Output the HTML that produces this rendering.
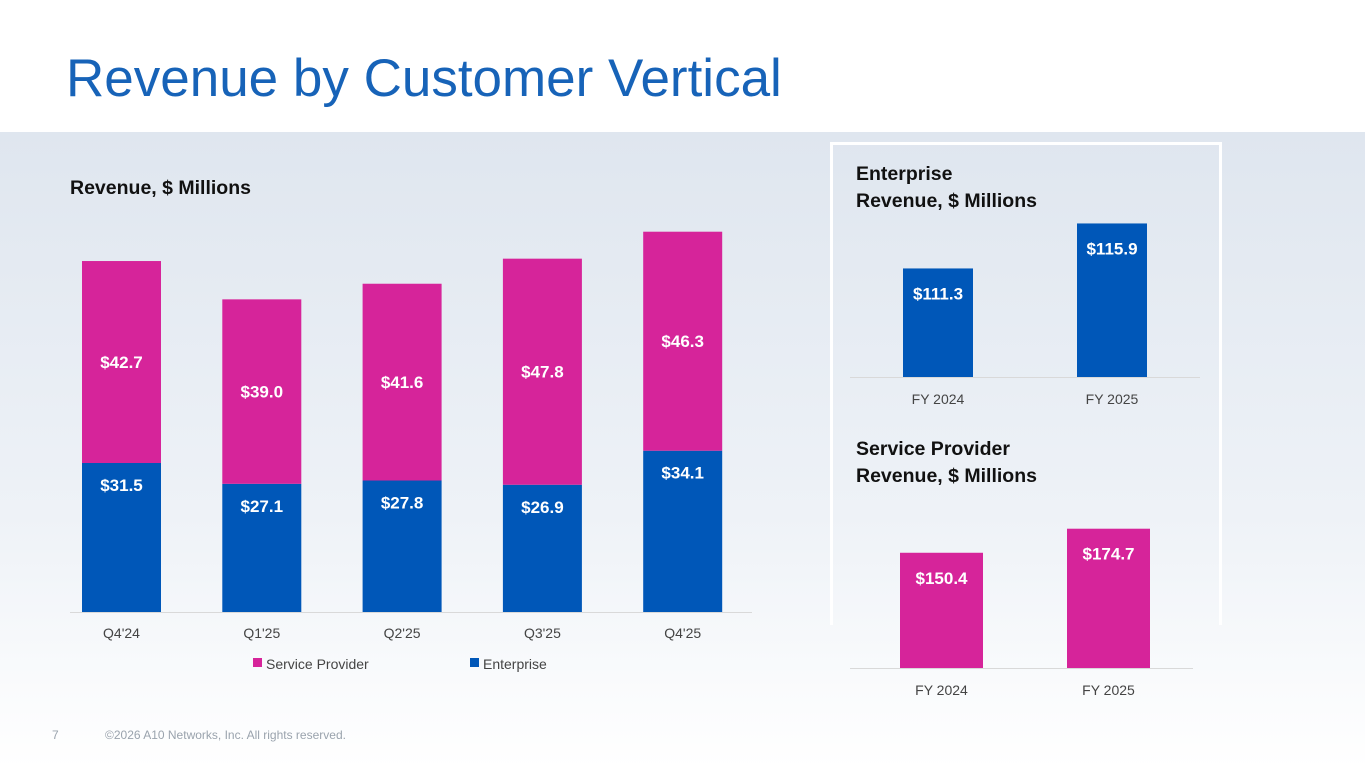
<!DOCTYPE html>
<html><head><meta charset="utf-8"><style>
body{margin:0;width:1365px;height:768px;overflow:hidden;font-family:"Liberation Sans",sans-serif;position:relative;background:#fff}
#bg{position:absolute;left:0;top:132px;width:1365px;height:636px;background:linear-gradient(#dfe6ef 0%,#eef2f7 60%,#ffffff 100%)}
#title{position:absolute;left:66px;top:48px;font-size:53px;color:#1763b8;white-space:nowrap}
#box{position:absolute;left:830px;top:142px;width:386px;height:480px;border:3px solid #fff;border-bottom:none}
.h{position:absolute;font-weight:bold;font-size:19.5px;color:#111;line-height:27px}
.foot{position:absolute;top:728px;font-size:12px;color:#9aa3ad}
svg{position:absolute;left:0;top:0}
</style></head><body>
<div id="bg"></div>
<div id="title">Revenue by Customer Vertical</div>
<div id="box"></div>
<div class="h" style="left:70px;top:175px">Revenue, $ Millions</div>
<div class="h" style="left:856px;top:161px">Enterprise<br>Revenue, $ Millions</div>
<div class="h" style="left:856px;top:436px">Service Provider<br>Revenue, $ Millions</div>
<div class="foot" style="left:52px">7</div>
<div class="foot" style="left:105px">©2026 A10 Networks, Inc. All rights reserved.</div>
<svg id="c" width="1365" height="768"></svg>
<script>
const quarters=["Q4'24","Q1'25","Q2'25","Q3'25","Q4'25"];
const enterprise=[31.5,27.1,27.8,26.9,34.1];
const serviceProvider=[42.7,39.0,41.6,47.8,46.3];
const fyYears=["FY 2024","FY 2025"];
const fyEnterprise=[111.3,115.9];
const fySP=[150.4,174.7];
const BLUE="#0057b8",MAG="#d6249a";
const svg=document.getElementById('c');const NS="http://www.w3.org/2000/svg";
function mk(t,a,txt){const e=document.createElementNS(NS,t);for(const k in a)e.setAttribute(k,a[k]);if(txt!=null)e.textContent=txt;svg.appendChild(e);return e;}
const base=612,scale=4.73;
const y=v=>base-v*scale;
const x0=82,step=140.3,bw=79;
let l=mk('line',{x1:70,x2:752,y1:612.5,y2:612.5,stroke:'#d9d9d9'});

quarters.forEach((q,i)=>{
 const x=x0+i*step,e=enterprise[i],s=serviceProvider[i];
 let r=mk('rect',{x:x,y:y(e),width:bw,height:e*scale,fill:BLUE});
 
 r=mk('rect',{x:x,y:y(e+s),width:bw,height:s*scale,fill:MAG});
 
 let t=mk('text',{x:x+bw/2,y:y(e)+28,'text-anchor':'middle','font-size':17,'font-weight':'bold',fill:'#fff'},'$'+e.toFixed(1));
 
 t=mk('text',{x:x+bw/2,y:y(e+s/2)+6,'text-anchor':'middle','font-size':17,'font-weight':'bold',fill:'#fff'},'$'+s.toFixed(1));
 
 t=mk('text',{x:x+bw/2,y:638,'text-anchor':'middle','font-size':14,fill:'#444'},q);
 
});
let lg=mk('rect',{x:253,y:658,width:9,height:9,fill:MAG});
lg=mk('text',{x:266,y:669,'font-size':14,fill:'#444'},'Service Provider');
lg=mk('rect',{x:470,y:658,width:9,height:9,fill:BLUE});
lg=mk('text',{x:483,y:669,'font-size':14,fill:'#444'},'Enterprise');
function fy(vals,b,min,sc,xs,w,col,lineX1,lineX2,tickY){
 let a=mk('line',{x1:lineX1,x2:lineX2,y1:b+.5,y2:b+.5,stroke:'#d9d9d9'});
 
 vals.forEach((v,i)=>{
  const h=(v-min)*sc;
  let r=mk('rect',{x:xs[i],y:b-h,width:w,height:h,fill:col});
  
  let t=mk('text',{x:xs[i]+w/2,y:b-h+31,'text-anchor':'middle','font-size':17,'font-weight':'bold',fill:'#fff'},'$'+v.toFixed(1));
  
  t=mk('text',{x:xs[i]+w/2,y:tickY,'text-anchor':'middle','font-size':14,fill:'#444'},fyYears[i]);
  
 });
}
fy(fyEnterprise,377,100.2,9.78,[903,1077],70,BLUE,850,1200,404);
fy(fySP,668,34,0.99,[900,1067],83,MAG,850,1193,695);
</script>
</body></html>
